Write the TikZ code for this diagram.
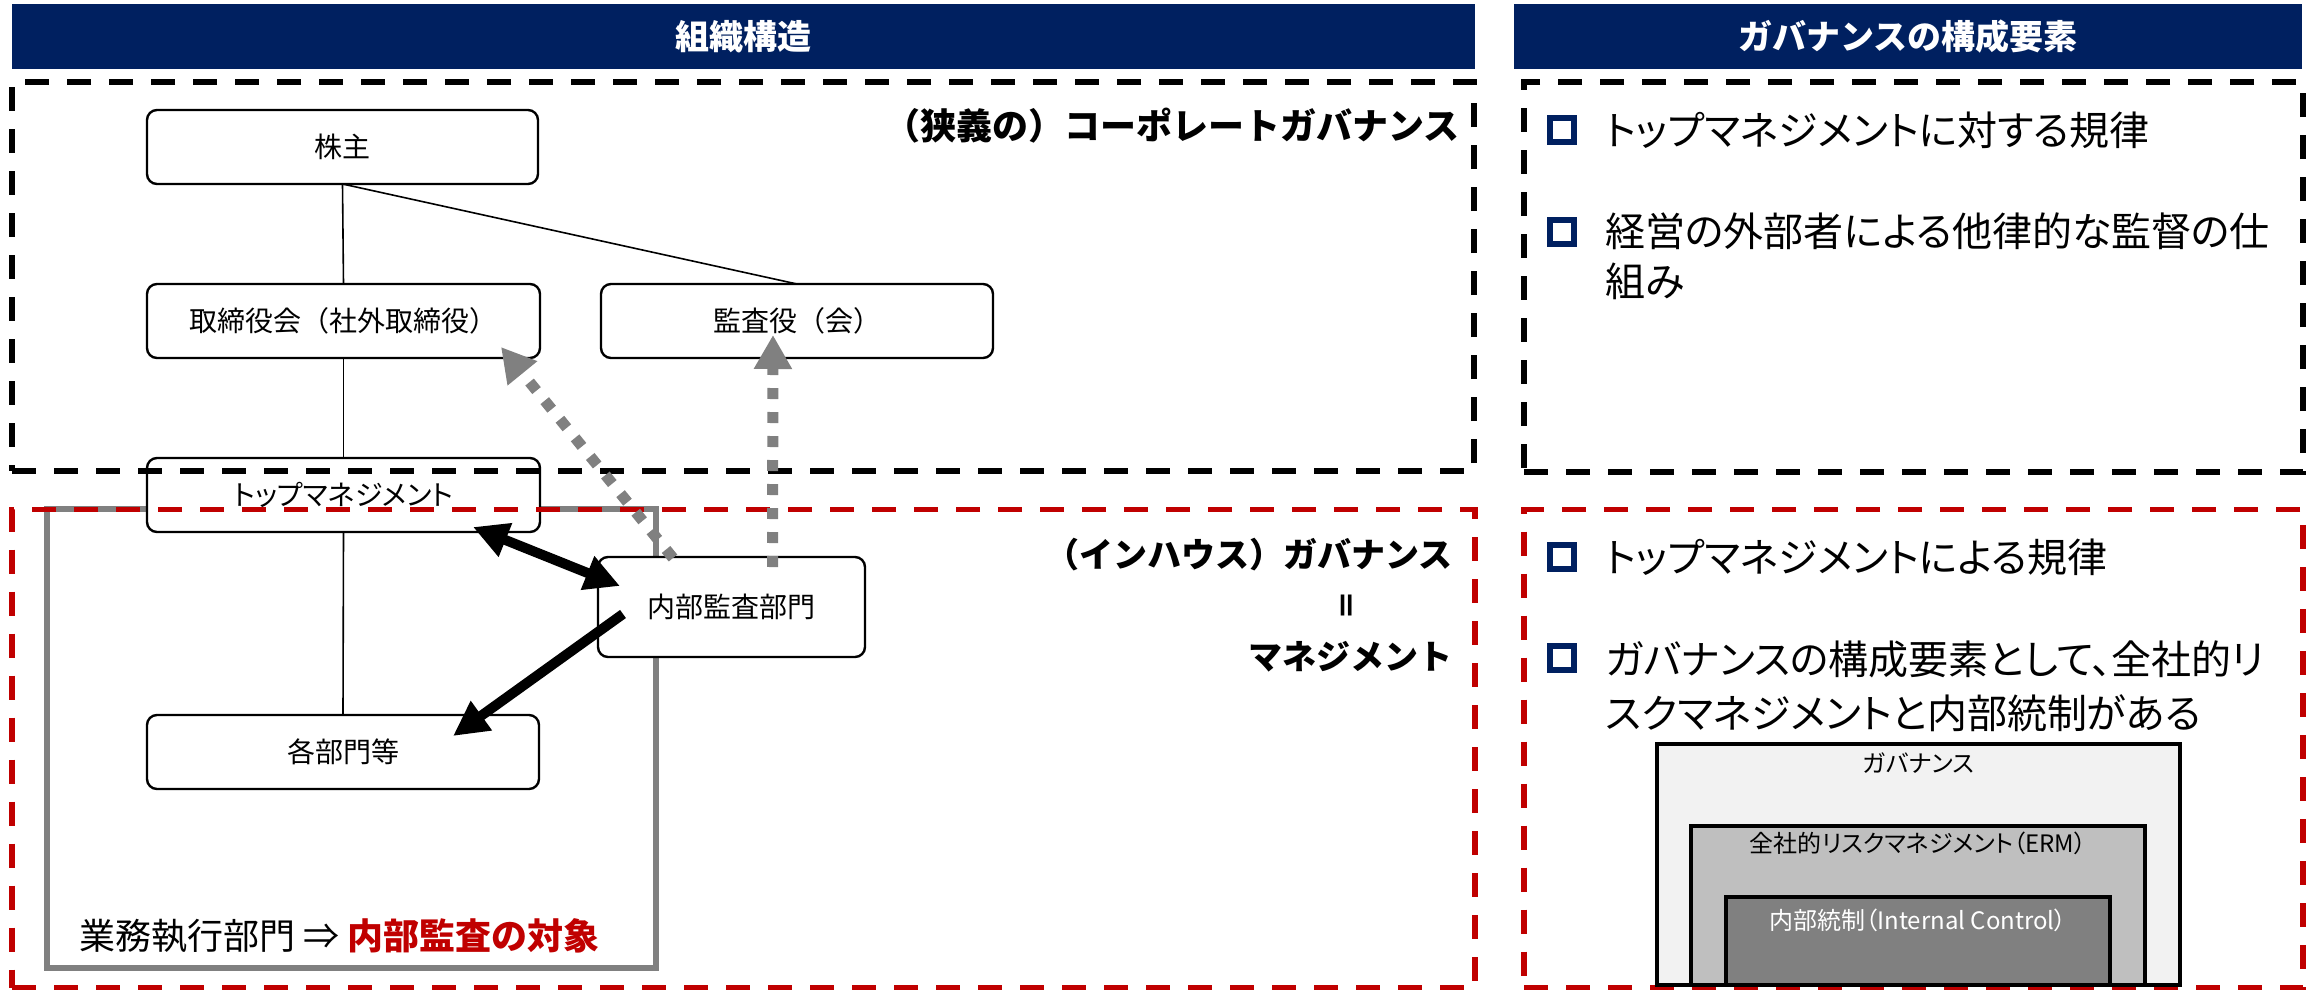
\documentclass[tikz,border=0pt]{standalone}
\usepackage{fontspec}
\setmainfont{Noto Sans CJK JP}
\newfontfamily\pfont{Noto Sans CJK JP}[RawFeature=+palt]
\usetikzlibrary{arrows.meta,calc}
\definecolor{navy}{HTML}{002060}
\definecolor{dred}{HTML}{C00000}
\definecolor{gfifty}{HTML}{808080}
\definecolor{gseventy}{HTML}{BFBFBF}
\definecolor{gninety}{HTML}{F2F2F2}
\begin{document}
\begin{tikzpicture}[x=0.5pt,y=-0.5pt,
  hdr/.style={fill=navy, draw=none, inner sep=0pt, outer sep=0pt, text=white,
    minimum height=32.5pt, font=\fontsize{17pt}{20pt}\selectfont\bfseries},
  orgbox/.style={draw=black, line width=1.2pt, rounded corners=5pt, fill=white,
    inner sep=0pt, outer sep=0pt, minimum height=37pt, font=\fontsize{14pt}{17pt}\selectfont},
  zone/.style={line width=2.8pt, dash pattern=on 12pt off 9pt, inner sep=0pt, outer sep=0pt},
  blackzone/.style={zone, draw=black},
  redzone/.style={zone, draw=dred},
  bulletsq/.style={draw=navy, line width=3.2pt, minimum size=12pt, inner sep=0pt},
  btext/.style={anchor=west, inner sep=0pt, font=\pfont\fontsize{20pt}{24pt}\selectfont},
  heading/.style={anchor=east, inner sep=0pt, font=\fontsize{18pt}{22pt}\selectfont\bfseries},
  nest/.style={draw=black, line width=2pt, inner sep=0pt, outer sep=0pt},
  nesttext/.style={inner sep=0pt, font=\pfont\fontsize{12pt}{14pt}\selectfont},
  thinline/.style={line width=0.8pt, black},
  bigarrow/.style={line width=5pt, black},
  grayarrow/.style={line width=5.5pt, gfifty, dash pattern=on 5.5pt off 6.5pt,
    -{Triangle[length=17pt,width=18pt]}}
]
\useasboundingbox (0,0) rectangle (2320,991);

% headers
\node[hdr, minimum width=731.5pt] (hleft) at (743.5,36.5) {組織構造};
\node[hdr, minimum width=394pt] (hright) at (1908,36.5) {ガバナンスの構成要素};

% gray execution box
\node[draw=gfifty, line width=2.8pt, minimum width=304.5pt, minimum height=229.5pt,
  inner sep=0pt, outer sep=0pt] (gyomu) at (351.5,738.5) {};
\node[anchor=west, inner sep=0pt, font=\fontsize{18pt}{22pt}\selectfont] (gyomulabel) at (79,936)
  {業務執行部門 ⇒ \textcolor{dred}{\bfseries 内部監査の対象}};

% org boxes
\node[orgbox, minimum width=195.5pt] (kabu) at (342.5,147) {株主};
\node[orgbox, minimum width=196.5pt] (tori) at (343.5,321) {取締役会（社外取締役）};
\node[orgbox, minimum width=196pt] (kansa) at (797,321) {監査役（会）};
\node[orgbox, minimum width=196.5pt, font=\pfont\fontsize{14pt}{17pt}\selectfont] (top) at (343.5,495) {トップマネジメント};
\node[orgbox, minimum width=196pt] (kakubu) at (343,752) {各部門等};
\node[orgbox, minimum width=133.5pt, minimum height=50pt] (naibu) at (731.5,607) {内部監査部門};

% thin lines
\draw[thinline] (kabu.south) -- (tori.north);
\draw[thinline] (kabu.south) -- (kansa.north);
\draw[thinline] (tori.south) -- (top.north);
\draw[thinline] (top.south) -- (kakubu.north);

% zones
\node[blackzone, minimum width=731pt, minimum height=194.5pt] (zoneA) at (743,276.5) {};
\node[blackzone, minimum width=389.5pt, minimum height=195pt] (zoneB) at (1913.5,277) {};
\node[redzone, minimum width=731.5pt, minimum height=239pt] (zoneC) at (743.5,748.5) {};
\node[redzone, minimum width=389.5pt, minimum height=239pt] (zoneD) at (1913.5,748.5) {};

% headings in left zones
\node[heading] (hA) at (1460,126) {（狭義の）コーポレートガバナンス};
\node[heading, font=\fontsize{17pt}{20pt}\selectfont\bfseries] (hC1) at (1453,555) {（インハウス）ガバナンス};
\node[inner sep=0pt, rotate=90, font=\fontsize{15pt}{18pt}\selectfont\bfseries] (hC2) at (1350,605) {＝};
\node[heading, font=\fontsize{17pt}{20pt}\selectfont\bfseries] (hC3) at (1453,657) {マネジメント};

% arrows
\draw[bigarrow, {Triangle[length=17.5pt,width=17pt]}-{Triangle[length=17.5pt,width=17pt]}]
  ($(top.south east)+(-67,-5)$) -- ($(naibu.north west)+(22,29)$);
\draw[bigarrow, -{Triangle[length=17.5pt,width=17pt]}]
  ($(naibu.west)+(25,7)$) -- ($(kakubu.north east)+(-86,21)$);
\draw[grayarrow] ($(naibu.north west)+(75,1)$) -- ($(tori.south east)+(-39,-11)$);
\draw[grayarrow] ($(naibu.north)+(41,10)$) -- ($(kansa.south)+(-24,-23)$);

% right upper bullets
\node[bulletsq] (b1) at (1562,130) {};
\node[btext] (t1) at (1605,130) {トップマネジメントに対する規律};
\node[bulletsq] (b2) at (1562,232) {};
\node[btext] (t2) at (1605,231) {経営の外部者による他律的な監督の仕};
\node[btext] (t2b) at (1605,281) {組み};

% right lower bullets
\node[bulletsq] (b3) at (1562,557) {};
\node[btext] (t3) at (1605,557) {トップマネジメントによる規律};
\node[bulletsq] (b4) at (1562,658) {};
\node[btext] (t4) at (1605,659) {ガバナンスの構成要素として、全社的リ};
\node[btext] (t4b) at (1605,713) {スクマネジメントと内部統制がある};

% nested boxes
\node[nest, fill=gninety, minimum width=261.5pt, minimum height=120.5pt] (gov) at (1918.5,864.5) {};
\node[nest, fill=gseventy, minimum width=227pt, minimum height=79.5pt] (erm) at (1918,905.5) {};
\node[nest, fill=gfifty, minimum width=192pt, minimum height=44pt] (ic) at (1918,941) {};
\node[nesttext] (govt) at (1918.5,763) {ガバナンス};
\node[nesttext] (ermt) at (1918,843) {全社的リスクマネジメント（ERM）};
\node[nesttext, text=white] (ict) at (1918,920) {内部統制（Internal Control）};
\end{tikzpicture}
\end{document}
